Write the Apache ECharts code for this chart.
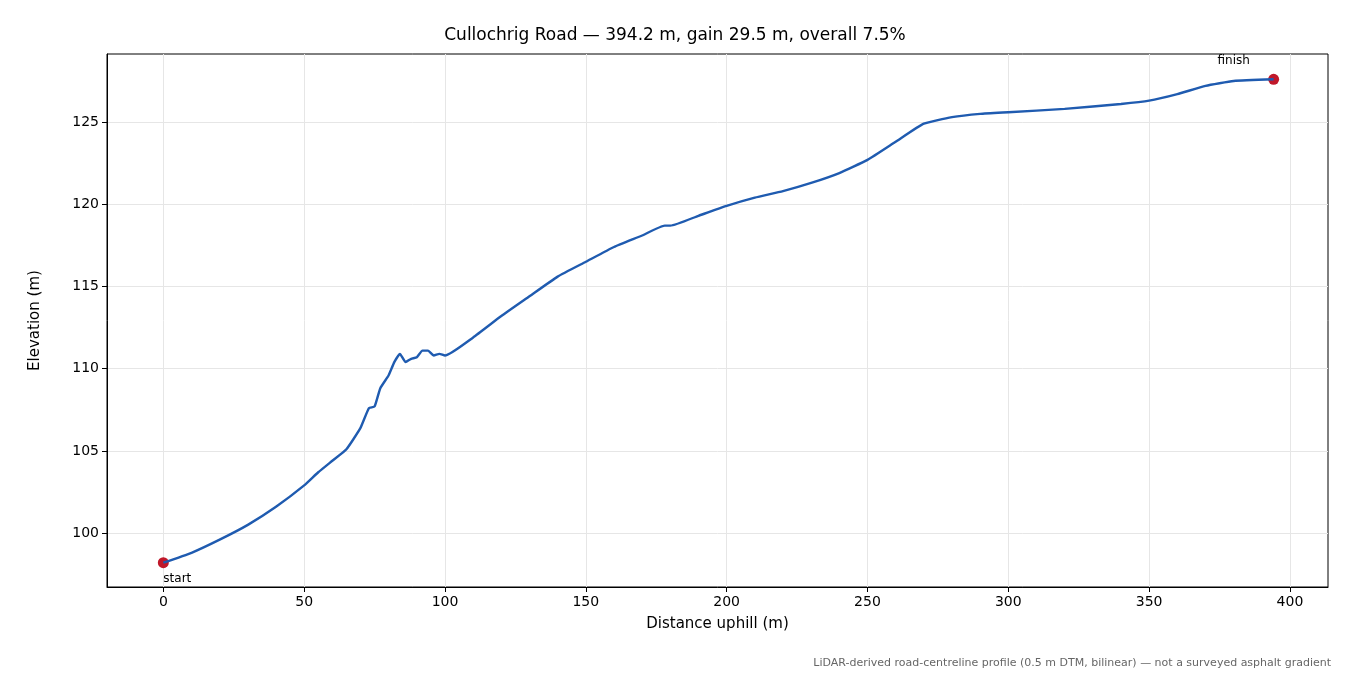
<!DOCTYPE html>
<html><head><meta charset="utf-8">
<script src="https://cdn.jsdelivr.net/npm/echarts@6/dist/echarts.min.js"></script>
<style>html,body{margin:0;padding:0;background:#fff}#c{width:1350px;height:675px}</style>
</head><body><div id="c"></div>
<script>
const distances=[0,10,20,30,40,50,55,60,65,70,73,75,77,80,82,84,86,88,90,92,94,96,98,100,110,120,130,140,150,160,170,178,180,190,200,210,220,230,240,250,260,270,280,290,300,320,340,350,360,370,380,394.2];
const elevations=[98.2,98.8,99.6,100.5,101.6,102.9,103.7,104.4,105.1,106.4,107.6,107.7,108.8,109.6,110.4,110.9,110.4,110.6,110.7,111.1,111.1,110.8,110.9,110.8,111.9,113.2,114.4,115.6,116.5,117.4,118.1,118.7,118.7,119.3,119.9,120.4,120.8,121.3,121.9,122.7,123.8,124.9,125.3,125.5,125.6,125.8,126.1,126.3,126.7,127.2,127.5,127.6];
const xTicks=[0,50,100,150,200,250,300,350,400];
const yTicks=[100,105,110,115,120,125];
const endpoints=[{name:'start',x:0,y:98.2,pos:'bottom'},{name:'finish',x:394.2,y:127.6,pos:'top'}];
const chart=echarts.init(document.getElementById('c'));
const font='DejaVu Sans';
chart.setOption({
  animation:false,
  textStyle:{fontFamily:font},
  title:[{text:'Cullochrig Road — 394.2 m, gain 29.5 m, overall 7.5%',left:'center',top:22,textStyle:{fontFamily:font,fontSize:17,fontWeight:'normal',color:'#000'}},
         {text:'LiDAR-derived road-centreline profile (0.5 m DTM, bilinear) — not a surveyed asphalt gradient',right:14,top:653,textStyle:{fontFamily:font,fontSize:11,fontWeight:'normal',color:'#666'}}],
  grid:{left:107,right:22,top:54,bottom:88,show:true,borderColor:'#000',borderWidth:1},
  xAxis:{type:'value',min:-20,max:413.5,
    name:'Distance uphill (m)',nameLocation:'middle',nameGap:30,nameTextStyle:{fontSize:15,color:'#000'},
    axisLine:{show:true,onZero:false,lineStyle:{color:'#000'}},axisTick:{show:true,inside:false,length:5,customValues:xTicks,lineStyle:{color:'#000'}},
    axisLabel:{customValues:xTicks,fontSize:14,color:'#000',margin:8},
    splitLine:{show:true,lineStyle:{color:'#e6e6e6'}},interval:50},
  yAxis:{type:'value',min:96.72,max:129.14,
    name:'Elevation (m)',nameLocation:'middle',nameGap:64,nameTextStyle:{fontSize:15,color:'#000'},
    axisLine:{show:true,onZero:false,lineStyle:{color:'#000'}},axisTick:{show:true,inside:false,length:5,customValues:yTicks,lineStyle:{color:'#000'}},
    axisLabel:{customValues:yTicks,fontSize:14,color:'#000',margin:8},
    splitLine:{show:true,lineStyle:{color:'#e6e6e6'}}},
  series:[
    {type:'line',data:distances.map((d,i)=>[d,elevations[i]]),showSymbol:false,smooth:0.15,
     lineStyle:{color:'#1f5bb0',width:2.4}},
    {type:'scatter',data:endpoints.map(e=>({value:[e.x,e.y],label:{show:true,formatter:e.name,position:e.pos,
      offset:e.pos==='bottom'?[14,0]:[-40,-2],fontSize:12,color:'#000'}})),
     symbolSize:11,itemStyle:{color:'#c0182a',opacity:1}}
  ]
});
</script></body></html>
